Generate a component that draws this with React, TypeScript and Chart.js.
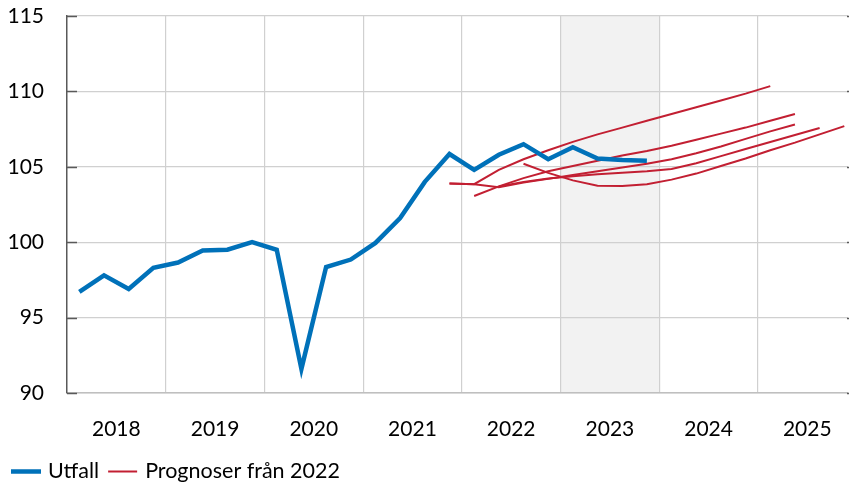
import React, { useEffect, useRef } from 'react';
import { Chart, registerables } from 'chart.js';

Chart.register(...registerables);

// ---- data ----
const years = ['2018', '2019', '2020', '2021', '2022', '2023', '2024', '2025'];
const quarters = years.flatMap((y) => ['K1', 'K2', 'K3', 'K4'].map((q) => `${y}${q}`));
const yTicks = [90, 95, 100, 105, 110, 115];
const shadedYear = '2023';

const utfallLabel = 'Utfall';
const prognosLabel = 'Prognoser från 2022';

// Outcome, 2018K1 .. 2023K4
const utfall = [
  96.7, 97.8, 96.9, 98.3,
  98.65, 99.45, 99.5, 100.0,
  99.5, 91.6, 98.35, 98.85,
  99.95, 101.6, 104.0, 105.85,
  104.8, 105.8, 106.5, 105.5,
  106.3, 105.55, 105.45, 105.4,
];

// Forecasts made in 2022 (start quarter + values)
const startFeb = '2021K4';
const prognosFeb = [103.9, 103.85, 104.8, 105.5, 106.1, 106.65, 107.15, 107.6, 108.05, 108.5, 108.95, 109.4, 109.85, 110.35];
const startApr = '2021K4';
const prognosApr = [103.9, 103.85, 103.65, 103.95, 104.2, 104.45, 104.7, 104.95, 105.2, 105.5, 105.9, 106.35, 106.85, 107.35, 107.81];
const startJun = '2022K1';
const prognosJun = [103.06, 103.7, 104.25, 104.7, 105.05, 105.4, 105.75, 106.05, 106.4, 106.8, 107.2, 107.6, 108.05, 108.5];
const startSep = '2022K2';
const prognosSep = [103.7, 104.0, 104.22, 104.38, 104.5, 104.6, 104.7, 104.85, 105.24, 105.71, 106.18, 106.64, 107.11, 107.57];
const startNov = '2022K3';
const prognosNov = [105.2, 104.6, 104.1, 103.75, 103.72, 103.85, 104.15, 104.55, 105.05, 105.55, 106.1, 106.6, 107.15, 107.7];

const forecasts: [string, number[]][] = [
  [startFeb, prognosFeb],
  [startApr, prognosApr],
  [startJun, prognosJun],
  [startSep, prognosSep],
  [startNov, prognosNov],
];

// ---- style ----
const BLUE = '#0071b9';
const RED = '#c21f32';
const GRID = '#d0d0d0';
const AXIS = '#595959';
const SHADE = '#f2f2f2';
const FONT = 'Lato, "Noto Sans", sans-serif';
const FONT_SIZE = 21;
const LEGEND_FONT_SIZE = 21.5;

const toPoints = (start: string, values: number[]) => {
  const i0 = quarters.indexOf(start);
  return values.map((v, k) => ({ x: i0 + k, y: v }));
};

const isBoundary = (v: number) => Math.abs(((v + 0.5) % 4 + 4) % 4) < 1e-6;
const isCenter = (v: number) => Math.abs(((v - 1.5) % 4 + 4) % 4) < 1e-6;

const shadePlugin = {
  id: 'shade',
  beforeDraw(chart: any) {
    const { ctx, chartArea } = chart;
    const xs = chart.scales.x;
    const yi = years.indexOf(shadedYear);
    const x0 = xs.getPixelForValue(yi * 4 - 0.5);
    const x1 = xs.getPixelForValue(yi * 4 + 3.5);
    ctx.save();
    ctx.fillStyle = SHADE;
    ctx.fillRect(x0, chartArea.top, x1 - x0, chartArea.bottom - chartArea.top);
    ctx.restore();
  },
};

const decorPlugin = {
  id: 'decor',
  afterDraw(chart: any) {
    const { ctx, chartArea } = chart;
    const ys = chart.scales.y;
    ctx.save();
    // inward ticks on left axis, small ticks on right edge
    ctx.strokeStyle = AXIS;
    ctx.lineWidth = 1.5;
    yTicks.forEach((t) => {
      const y = Math.round(ys.getPixelForValue(t)) + 0.5;
      ctx.beginPath();
      ctx.moveTo(chartArea.left, y);
      ctx.lineTo(chartArea.left + 10, y);
      ctx.stroke();
      ctx.beginPath();
      ctx.moveTo(chartArea.right - 1, y);
      ctx.lineTo(chartArea.right + 8, y);
      ctx.stroke();
    });
    // legend
    const ly = 471.5;
    ctx.font = `${LEGEND_FONT_SIZE}px ${FONT}`;
    ctx.textBaseline = 'middle';
    ctx.fillStyle = '#000';
    ctx.lineCap = 'butt';
    ctx.strokeStyle = BLUE;
    ctx.lineWidth = 4.5;
    ctx.beginPath();
    ctx.moveTo(11, ly);
    ctx.lineTo(41, ly);
    ctx.stroke();
    ctx.fillText(utfallLabel, 48, ly);
    const rx = 48 + ctx.measureText(utfallLabel).width + 9;
    ctx.strokeStyle = RED;
    ctx.lineWidth = 2;
    ctx.beginPath();
    ctx.moveTo(rx, ly);
    ctx.lineTo(rx + 29, ly);
    ctx.stroke();
    ctx.fillText(prognosLabel, rx + 37, ly);
    ctx.restore();
  },
};

export default function App() {
  const ref = useRef<HTMLCanvasElement>(null);

  useEffect(() => {
    if (!ref.current) return;
    const datasets: any[] = [
      {
        label: utfallLabel,
        data: utfall.map((v, i) => ({ x: i, y: v })),
        borderColor: BLUE,
        backgroundColor: BLUE,
        borderWidth: 4.5,
        pointRadius: 0,
        tension: 0,
      },
      ...forecasts.map(([s, vals]) => ({
        label: prognosLabel,
        data: toPoints(s, vals),
        borderColor: RED,
        backgroundColor: RED,
        borderWidth: 2,
        pointRadius: 0,
        tension: 0,
      })),
    ];
    const chart = new Chart(ref.current, {
      type: 'line',
      data: { datasets },
      plugins: [shadePlugin, decorPlugin],
      options: {
        animation: false,
        responsive: false,
        maintainAspectRatio: false,
        layout: { padding: { top: 16, right: 1, bottom: 0, left: 0 } },
        plugins: { legend: { display: false }, tooltip: { enabled: false } },
        scales: {
          x: {
            type: 'linear',
            min: -0.5,
            max: 31.15,
            afterBuildTicks: (axis: any) => {
              const t: any[] = [];
              for (let k = 0; k < years.length; k++) {
                t.push({ value: k * 4 - 0.5 });
                t.push({ value: k * 4 + 1.5 });
              }
              axis.ticks = t;
            },
            afterFit: (scale: any) => {
              scale.height = 94;
              scale.paddingLeft = 0;
              scale.paddingRight = 0;
            },
            ticks: {
              autoSkip: false,
              maxRotation: 0,
              padding: 24,
              color: '#000',
              font: { family: FONT, size: FONT_SIZE },
              callback: (value: any) => (isCenter(Number(value)) ? years[(Number(value) - 1.5) / 4] : ''),
            },
            grid: {
              drawTicks: false,
              lineWidth: 1.2,
              color: (ctx: any) => {
                const v = ctx.tick ? ctx.tick.value : NaN;
                return isBoundary(v) && v > 0 ? GRID : 'rgba(0,0,0,0)';
              },
            },
            border: { display: true, color: '#bfbfbf', width: 1.5 },
          },
          y: {
            min: 90,
            max: 115,
            afterBuildTicks: (axis: any) => {
              axis.ticks = yTicks.map((v) => ({ value: v }));
            },
            afterFit: (scale: any) => {
              scale.width = 67;
              scale.paddingTop = 0;
              scale.paddingBottom = 0;
            },
            ticks: {
              padding: 23,
              color: '#000',
              font: { family: FONT, size: FONT_SIZE },
            },
            grid: { drawTicks: false, color: GRID, lineWidth: 1.2 },
            border: { display: true, color: AXIS, width: 1.5 },
          },
        },
      },
    });
    return () => chart.destroy();
  }, []);

  return (
    <div style={{ position: 'fixed', left: 0, top: 0, width: 849, height: 487, background: '#fff' }}>
      <canvas ref={ref} width={849} height={487} style={{ width: 849, height: 487, display: 'block' }} />
    </div>
  );
}
